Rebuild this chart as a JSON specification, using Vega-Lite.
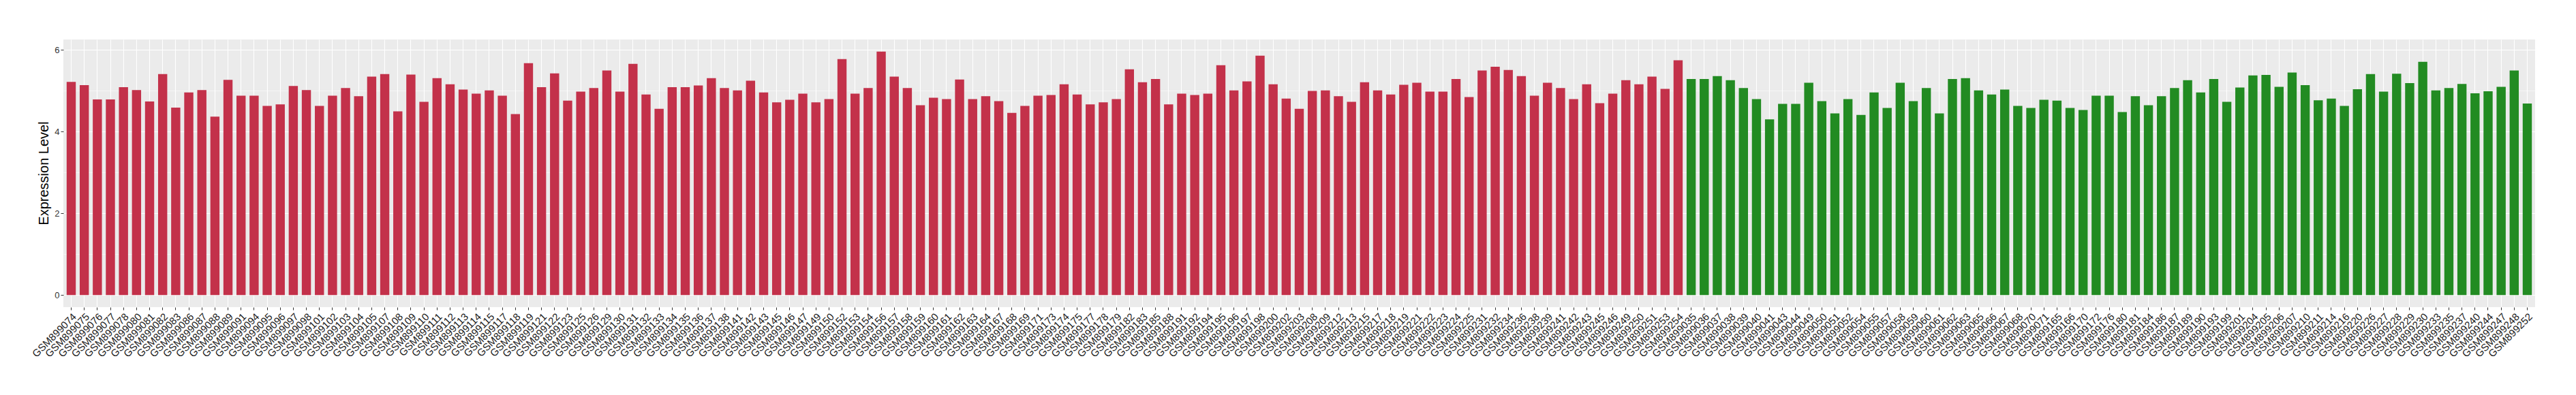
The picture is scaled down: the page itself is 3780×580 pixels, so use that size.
{
  "$schema": "https://vega.github.io/schema/vega-lite/v6.json",
  "autosize": {"type": "none"},
  "padding": {"left": 93, "top": 58, "right": 60, "bottom": 129},
  "width": 3627,
  "height": 393,
  "background": "white",
  "config": {
    "view": {"fill": "#EBEBEB", "stroke": null},
    "font": "Liberation Sans"
  },
  "data": {"values": [
    {"sample":"GSM899074","value":5.22,"group":"A"},
    {"sample":"GSM899075","value":5.14,"group":"A"},
    {"sample":"GSM899076","value":4.79,"group":"A"},
    {"sample":"GSM899077","value":4.79,"group":"A"},
    {"sample":"GSM899078","value":5.09,"group":"A"},
    {"sample":"GSM899080","value":5.02,"group":"A"},
    {"sample":"GSM899081","value":4.74,"group":"A"},
    {"sample":"GSM899082","value":5.41,"group":"A"},
    {"sample":"GSM899083","value":4.59,"group":"A"},
    {"sample":"GSM899086","value":4.96,"group":"A"},
    {"sample":"GSM899087","value":5.02,"group":"A"},
    {"sample":"GSM899088","value":4.37,"group":"A"},
    {"sample":"GSM899089","value":5.27,"group":"A"},
    {"sample":"GSM899091","value":4.88,"group":"A"},
    {"sample":"GSM899094","value":4.88,"group":"A"},
    {"sample":"GSM899095","value":4.63,"group":"A"},
    {"sample":"GSM899096","value":4.67,"group":"A"},
    {"sample":"GSM899097","value":5.12,"group":"A"},
    {"sample":"GSM899098","value":5.02,"group":"A"},
    {"sample":"GSM899101","value":4.63,"group":"A"},
    {"sample":"GSM899102","value":4.88,"group":"A"},
    {"sample":"GSM899103","value":5.07,"group":"A"},
    {"sample":"GSM899104","value":4.87,"group":"A"},
    {"sample":"GSM899105","value":5.35,"group":"A"},
    {"sample":"GSM899107","value":5.41,"group":"A"},
    {"sample":"GSM899108","value":4.50,"group":"A"},
    {"sample":"GSM899109","value":5.40,"group":"A"},
    {"sample":"GSM899110","value":4.73,"group":"A"},
    {"sample":"GSM899111","value":5.31,"group":"A"},
    {"sample":"GSM899112","value":5.16,"group":"A"},
    {"sample":"GSM899113","value":5.03,"group":"A"},
    {"sample":"GSM899114","value":4.93,"group":"A"},
    {"sample":"GSM899115","value":5.01,"group":"A"},
    {"sample":"GSM899117","value":4.88,"group":"A"},
    {"sample":"GSM899118","value":4.43,"group":"A"},
    {"sample":"GSM899119","value":5.68,"group":"A"},
    {"sample":"GSM899121","value":5.09,"group":"A"},
    {"sample":"GSM899122","value":5.43,"group":"A"},
    {"sample":"GSM899123","value":4.76,"group":"A"},
    {"sample":"GSM899125","value":4.98,"group":"A"},
    {"sample":"GSM899126","value":5.07,"group":"A"},
    {"sample":"GSM899129","value":5.50,"group":"A"},
    {"sample":"GSM899130","value":4.98,"group":"A"},
    {"sample":"GSM899131","value":5.66,"group":"A"},
    {"sample":"GSM899132","value":4.91,"group":"A"},
    {"sample":"GSM899133","value":4.56,"group":"A"},
    {"sample":"GSM899134","value":5.09,"group":"A"},
    {"sample":"GSM899135","value":5.09,"group":"A"},
    {"sample":"GSM899136","value":5.13,"group":"A"},
    {"sample":"GSM899137","value":5.31,"group":"A"},
    {"sample":"GSM899138","value":5.07,"group":"A"},
    {"sample":"GSM899141","value":5.01,"group":"A"},
    {"sample":"GSM899142","value":5.25,"group":"A"},
    {"sample":"GSM899143","value":4.96,"group":"A"},
    {"sample":"GSM899145","value":4.72,"group":"A"},
    {"sample":"GSM899146","value":4.78,"group":"A"},
    {"sample":"GSM899147","value":4.93,"group":"A"},
    {"sample":"GSM899149","value":4.72,"group":"A"},
    {"sample":"GSM899150","value":4.80,"group":"A"},
    {"sample":"GSM899152","value":5.78,"group":"A"},
    {"sample":"GSM899153","value":4.93,"group":"A"},
    {"sample":"GSM899154","value":5.07,"group":"A"},
    {"sample":"GSM899156","value":5.96,"group":"A"},
    {"sample":"GSM899157","value":5.35,"group":"A"},
    {"sample":"GSM899158","value":5.07,"group":"A"},
    {"sample":"GSM899159","value":4.65,"group":"A"},
    {"sample":"GSM899160","value":4.83,"group":"A"},
    {"sample":"GSM899161","value":4.80,"group":"A"},
    {"sample":"GSM899162","value":5.28,"group":"A"},
    {"sample":"GSM899163","value":4.80,"group":"A"},
    {"sample":"GSM899164","value":4.87,"group":"A"},
    {"sample":"GSM899167","value":4.75,"group":"A"},
    {"sample":"GSM899168","value":4.46,"group":"A"},
    {"sample":"GSM899169","value":4.63,"group":"A"},
    {"sample":"GSM899171","value":4.88,"group":"A"},
    {"sample":"GSM899173","value":4.90,"group":"A"},
    {"sample":"GSM899174","value":5.16,"group":"A"},
    {"sample":"GSM899175","value":4.91,"group":"A"},
    {"sample":"GSM899177","value":4.67,"group":"A"},
    {"sample":"GSM899178","value":4.72,"group":"A"},
    {"sample":"GSM899179","value":4.80,"group":"A"},
    {"sample":"GSM899182","value":5.53,"group":"A"},
    {"sample":"GSM899183","value":5.21,"group":"A"},
    {"sample":"GSM899185","value":5.29,"group":"A"},
    {"sample":"GSM899188","value":4.67,"group":"A"},
    {"sample":"GSM899191","value":4.93,"group":"A"},
    {"sample":"GSM899192","value":4.90,"group":"A"},
    {"sample":"GSM899194","value":4.93,"group":"A"},
    {"sample":"GSM899195","value":5.63,"group":"A"},
    {"sample":"GSM899196","value":5.01,"group":"A"},
    {"sample":"GSM899197","value":5.23,"group":"A"},
    {"sample":"GSM899198","value":5.86,"group":"A"},
    {"sample":"GSM899200","value":5.16,"group":"A"},
    {"sample":"GSM899202","value":4.81,"group":"A"},
    {"sample":"GSM899203","value":4.56,"group":"A"},
    {"sample":"GSM899208","value":5.00,"group":"A"},
    {"sample":"GSM899209","value":5.01,"group":"A"},
    {"sample":"GSM899212","value":4.87,"group":"A"},
    {"sample":"GSM899213","value":4.73,"group":"A"},
    {"sample":"GSM899215","value":5.21,"group":"A"},
    {"sample":"GSM899217","value":5.01,"group":"A"},
    {"sample":"GSM899218","value":4.91,"group":"A"},
    {"sample":"GSM899219","value":5.15,"group":"A"},
    {"sample":"GSM899221","value":5.20,"group":"A"},
    {"sample":"GSM899222","value":4.98,"group":"A"},
    {"sample":"GSM899223","value":4.98,"group":"A"},
    {"sample":"GSM899224","value":5.29,"group":"A"},
    {"sample":"GSM899225","value":4.85,"group":"A"},
    {"sample":"GSM899231","value":5.50,"group":"A"},
    {"sample":"GSM899232","value":5.59,"group":"A"},
    {"sample":"GSM899234","value":5.51,"group":"A"},
    {"sample":"GSM899236","value":5.36,"group":"A"},
    {"sample":"GSM899238","value":4.88,"group":"A"},
    {"sample":"GSM899239","value":5.20,"group":"A"},
    {"sample":"GSM899241","value":5.07,"group":"A"},
    {"sample":"GSM899242","value":4.80,"group":"A"},
    {"sample":"GSM899243","value":5.16,"group":"A"},
    {"sample":"GSM899245","value":4.70,"group":"A"},
    {"sample":"GSM899246","value":4.93,"group":"A"},
    {"sample":"GSM899249","value":5.26,"group":"A"},
    {"sample":"GSM899250","value":5.16,"group":"A"},
    {"sample":"GSM899251","value":5.35,"group":"A"},
    {"sample":"GSM899253","value":5.05,"group":"A"},
    {"sample":"GSM899254","value":5.75,"group":"A"},
    {"sample":"GSM899035","value":5.29,"group":"B"},
    {"sample":"GSM899036","value":5.29,"group":"B"},
    {"sample":"GSM899037","value":5.36,"group":"B"},
    {"sample":"GSM899038","value":5.26,"group":"B"},
    {"sample":"GSM899039","value":5.07,"group":"B"},
    {"sample":"GSM899040","value":4.80,"group":"B"},
    {"sample":"GSM899041","value":4.30,"group":"B"},
    {"sample":"GSM899043","value":4.68,"group":"B"},
    {"sample":"GSM899044","value":4.68,"group":"B"},
    {"sample":"GSM899049","value":5.20,"group":"B"},
    {"sample":"GSM899050","value":4.75,"group":"B"},
    {"sample":"GSM899051","value":4.45,"group":"B"},
    {"sample":"GSM899052","value":4.80,"group":"B"},
    {"sample":"GSM899054","value":4.41,"group":"B"},
    {"sample":"GSM899055","value":4.96,"group":"B"},
    {"sample":"GSM899057","value":4.58,"group":"B"},
    {"sample":"GSM899058","value":5.20,"group":"B"},
    {"sample":"GSM899059","value":4.75,"group":"B"},
    {"sample":"GSM899060","value":5.07,"group":"B"},
    {"sample":"GSM899061","value":4.45,"group":"B"},
    {"sample":"GSM899062","value":5.29,"group":"B"},
    {"sample":"GSM899063","value":5.31,"group":"B"},
    {"sample":"GSM899065","value":5.01,"group":"B"},
    {"sample":"GSM899066","value":4.91,"group":"B"},
    {"sample":"GSM899067","value":5.03,"group":"B"},
    {"sample":"GSM899068","value":4.63,"group":"B"},
    {"sample":"GSM899070","value":4.58,"group":"B"},
    {"sample":"GSM899071","value":4.78,"group":"B"},
    {"sample":"GSM899165","value":4.76,"group":"B"},
    {"sample":"GSM899166","value":4.58,"group":"B"},
    {"sample":"GSM899170","value":4.53,"group":"B"},
    {"sample":"GSM899172","value":4.88,"group":"B"},
    {"sample":"GSM899176","value":4.88,"group":"B"},
    {"sample":"GSM899180","value":4.48,"group":"B"},
    {"sample":"GSM899181","value":4.87,"group":"B"},
    {"sample":"GSM899184","value":4.65,"group":"B"},
    {"sample":"GSM899186","value":4.87,"group":"B"},
    {"sample":"GSM899187","value":5.07,"group":"B"},
    {"sample":"GSM899189","value":5.26,"group":"B"},
    {"sample":"GSM899190","value":4.96,"group":"B"},
    {"sample":"GSM899193","value":5.29,"group":"B"},
    {"sample":"GSM899199","value":4.73,"group":"B"},
    {"sample":"GSM899201","value":5.08,"group":"B"},
    {"sample":"GSM899204","value":5.38,"group":"B"},
    {"sample":"GSM899205","value":5.39,"group":"B"},
    {"sample":"GSM899206","value":5.10,"group":"B"},
    {"sample":"GSM899207","value":5.45,"group":"B"},
    {"sample":"GSM899210","value":5.14,"group":"B"},
    {"sample":"GSM899211","value":4.77,"group":"B"},
    {"sample":"GSM899214","value":4.81,"group":"B"},
    {"sample":"GSM899216","value":4.63,"group":"B"},
    {"sample":"GSM899220","value":5.04,"group":"B"},
    {"sample":"GSM899226","value":5.41,"group":"B"},
    {"sample":"GSM899227","value":4.98,"group":"B"},
    {"sample":"GSM899228","value":5.42,"group":"B"},
    {"sample":"GSM899229","value":5.19,"group":"B"},
    {"sample":"GSM899230","value":5.71,"group":"B"},
    {"sample":"GSM899233","value":5.01,"group":"B"},
    {"sample":"GSM899235","value":5.07,"group":"B"},
    {"sample":"GSM899237","value":5.17,"group":"B"},
    {"sample":"GSM899240","value":4.94,"group":"B"},
    {"sample":"GSM899244","value":4.99,"group":"B"},
    {"sample":"GSM899247","value":5.10,"group":"B"},
    {"sample":"GSM899248","value":5.50,"group":"B"},
    {"sample":"GSM899252","value":4.69,"group":"B"}
  ]},
  "mark": {"type": "bar"},
  "encoding": {
    "x": {
      "field": "sample",
      "type": "nominal",
      "sort": null,
      "scale": {"paddingInner": 0.3, "paddingOuter": 0.25},
      "axis": {
        "title": null,
        "labelAngle": -45,
        "labelAlign": "right",
        "labelBaseline": "top",
        "labelFontSize": 15,
        "labelColor": "#222222",
        "labelPadding": 2,
        "labelOverlap": false,
        "labelLimit": 0,
        "domain": false,
        "ticks": true,
        "tickSize": 4,
        "tickColor": "#333333",
        "tickWidth": 1,
        "grid": true,
        "gridColor": "#FFFFFF",
        "gridWidth": 1.1
      }
    },
    "y": {
      "field": "value",
      "type": "quantitative",
      "scale": {"domain": [-0.298, 6.258], "nice": false, "zero": false},
      "axis": {
        "title": "Expression Level",
        "titleFontSize": 20,
        "titleFontWeight": "normal",
        "titleColor": "#000000",
        "titleX": -29,
        "titleY": 196,
        "titleAngle": -90,
        "titleAlign": "center",
        "titleBaseline": "middle",
        "values": [0, 1, 2, 3, 4, 5, 6],
        "labelExpr": "datum.value % 2 === 0 ? datum.label : ''",
        "labelFontSize": 13,
        "labelColor": "#333333",
        "labelPadding": 2,
        "domain": false,
        "tickSize": 4,
        "tickColor": "#333333",
        "tickOpacity": {"condition": {"test": "datum.value % 2 === 1", "value": 0}, "value": 1},
        "grid": true,
        "gridColor": "#FFFFFF",
        "gridWidth": {"condition": {"test": "datum.value % 2 === 1", "value": 0.55}, "value": 1.1}
      }
    },
    "y2": {"datum": 0},
    "color": {
      "field": "group",
      "type": "nominal",
      "scale": {"domain": ["A", "B"], "range": ["#C3314A", "#228B22"]},
      "legend": null
    }
  }
}
